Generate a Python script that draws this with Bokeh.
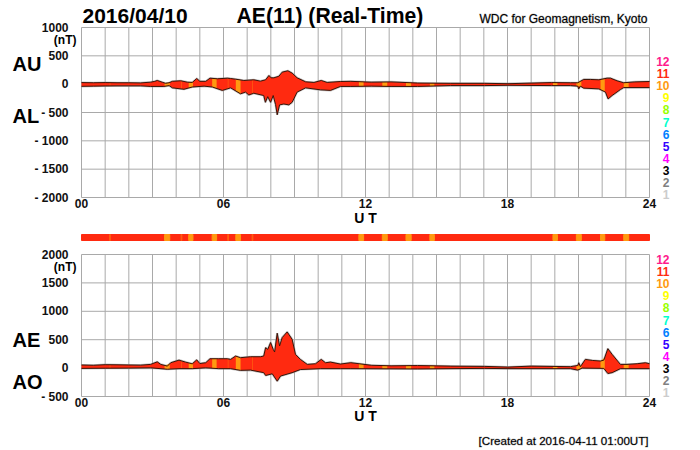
from bokeh.plotting import figure
from bokeh.models import Label, FixedTicker, Range1d, LinearAxis
from bokeh.embed import file_html
from bokeh.resources import INLINE
import numpy as np

FONT = "Liberation Sans"
RED = "#ff2a10"
ORANGE = "#ff9a10"
THIN = "#ff6010"
GRID = "#a9a9a9"
EDGE = "#3a1408"

au_h = [0,0.5,1,1.5,2,2.5,2.92,3.1,3.2,3.41,3.55,3.7,3.84,4.19,4.47,4.68,4.87,5.0,5.25,5.43,5.74,6.16,6.3,6.51,6.86,7.28,7.56,7.78,7.92,8.01,8.13,8.34,8.48,8.72,8.9,9.11,9.47,9.82,10.13,10.38,10.94,11.38,12.24,13.08,14.2,15.6,17.03,18.02,19.85,20.66,20.97,21.22,21.5,21.86,22.21,22.35,22.63,22.91,23.38,24]
au_v = [28,25,28,25,25,22,35,50,65,35,15,25,50,60,35,30,100,50,50,105,95,105,100,88,65,77,53,77,153,112,112,140,212,236,195,112,41,30,65,30,47,50,35,40,20,15,15,8,28,25,25,83,83,77,106,106,59,25,40,47]
al_h = [0,0.5,1,1.5,2,2.5,2.92,3.48,3.7,3.84,4.33,4.68,5.18,5.53,5.95,6.3,6.72,6.93,7.07,7.28,7.70,7.77,7.87,7.99,8.1,8.2,8.27,8.37,8.55,8.76,8.9,9.11,9.47,10.1,10.52,10.94,11.38,12.24,13.08,14.2,15.6,17.03,18.02,19.85,20.66,20.97,21.01,21.08,21.22,21.86,22.14,22.25,22.42,22.77,22.91,24]
al_v = [-38,-35,-32,-30,-30,-30,-40,-40,-25,-65,-90,-50,-35,-50,-110,-65,-170,-140,-190,-160,-200,-320,-220,-320,-200,-360,-540,-365,-350,-365,-320,-140,-65,-100,-110,-40,-40,-35,-40,-40,-25,-25,-20,-25,-25,-35,-83,-35,-70,-83,-140,-260,-200,-95,-60,-60]
ae_h = [0,0.5,1,1.5,2,2.5,2.92,3.2,3.35,3.63,3.77,4.12,4.4,4.68,4.87,5.0,5.25,5.43,5.8,6.16,6.3,6.51,6.72,7.14,7.56,7.70,7.78,7.87,7.99,8.1,8.16,8.27,8.37,8.48,8.69,8.9,9.04,9.25,9.54,9.89,10.13,10.31,10.52,10.94,11.38,12.24,13.08,14.2,15.6,17.03,18.02,19,20.66,20.97,21.01,21.08,21.29,21.58,21.93,22.07,22.24,22.42,22.77,23.05,23.48,23.83,24]
ae_v = [55,50,60,58,55,52,65,110,65,35,95,140,105,75,145,80,95,165,165,165,153,212,183,200,200,212,360,330,450,330,283,614,390,537,637,507,242,153,65,77,153,94,106,71,95,50,40,45,35,30,18,35,25,47,94,25,153,135,124,140,342,242,65,65,77,94,77]
ao_h = [0,1,2,2.92,3.63,4.12,4.68,5.25,5.8,6.3,6.72,7.14,7.70,7.78,8.06,8.27,8.41,8.9,9.25,10.1,10.94,11.38,14.2,17.03,18.02,20.66,20.97,21.15,22.07,22.24,22.42,22.77,24]
ao_v = [-5,-2,0,5,-20,-10,-10,5,-10,-10,-40,-35,-80,-130,-100,-230,-140,-80,-25,-10,-10,-10,-15,-5,-10,-10,-35,0,-5,-95,-80,-10,-10]

band_start = [3.51,4.53,5.52,6.52,11.72,12.71,13.71,14.72,19.92,20.91,21.93,22.91]
band_end = [3.73,4.71,5.71,6.72,11.92,12.92,13.93,14.91,20.11,21.12,22.11,23.12]
thin_start = [1.19,4.21,6.18,7.21]
thin_end = [1.22,4.24,6.21,7.24]

hours = list(range(25))
hour_labels = {0:"00",6:"06",12:"12",18:"18",24:"24"}
top_ticks = [1000,500,0,-500,-1000,-1500,-2000]
top_labels = ["1000","500","0","- 500","- 1000","- 1500","- 2000"]
low_ticks = [2000,1500,1000,500,0,-500]
low_labels = ["2000","1500","1000","500","0","- 500"]
legend_names = ["12","11","10","9","8","7","6","5","4","3","2","1"]
legend_colors = ["#ff1a8c","#ff2a10","#ff9a10","#ffff00","#99ff00","#00ffcc","#0080ff","#3300ff","#ff00ff","#000000","#808080","#cccccc"]

W, H = 690, 448
X0, X1 = 81.0, 649.0


def span(top_px, bottom_px, top_val, bottom_val):
    """Range that puts the given values at the given page rows of a full-canvas frame."""
    k = (top_val - bottom_val) / (bottom_px - top_px)
    return Range1d(bottom_val - (H - bottom_px) * k, top_val + top_px * k)


pxh = (X1 - X0) / 24
p = figure(width=W, height=H, output_backend="svg", toolbar_location=None,
           x_range=Range1d(-X0 / pxh, (W - X0) / pxh), y_range=span(27, 197, 1000, -2000),
           x_axis_type=None, y_axis_type=None,
           min_border_left=0, min_border_right=0, min_border_top=0, min_border_bottom=0)
p.extra_y_ranges = {"low": span(254, 396, 2000, -500), "strip": span(234, 240, 1, 0)}
p.outline_line_color = None
p.grid.visible = False


def style(ax):
    ax.axis_line_color = None
    ax.major_tick_line_color = None
    ax.minor_tick_line_color = None
    ax.major_label_text_font = FONT
    ax.major_label_text_font_style = "bold"
    ax.major_label_text_font_size = "12px"
    ax.major_label_text_color = "#111111"
    return ax


def panel(rng, ticks, labels):
    ylo, yhi = min(ticks), max(ticks)
    p.segment(hours, ylo, hours, yhi, line_color=GRID, line_width=1, y_range_name=rng)
    p.segment(0, ticks, 24, ticks, line_color=GRID, line_width=1, y_range_name=rng)
    ov = {h: "" for h in hours}
    ov.update(hour_labels)
    p.add_layout(style(LinearAxis(ticker=FixedTicker(ticks=hours), major_label_overrides=ov,
                                  y_range_name=rng, fixed_location=ylo, major_label_standoff=-5)), "below")
    p.add_layout(style(LinearAxis(ticker=FixedTicker(ticks=ticks), major_label_overrides=dict(zip(ticks, labels)),
                                  y_range_name=rng, fixed_location=0, major_label_standoff=7)), "left")


def envelope(rng, uh, uv, lh, lv):
    all_h = np.array(sorted(set(uh) | set(lh)))
    p.line(uh, uv, line_color="#999999", line_width=2.2, line_alpha=0.6, y_range_name=rng)
    p.line(lh, lv, line_color="#999999", line_width=2.2, line_alpha=0.6, y_range_name=rng)
    p.varea(all_h, np.interp(all_h, lh, lv), np.interp(all_h, uh, uv), color=RED, y_range_name=rng)
    for starts, ends, col in ((band_start, band_end, ORANGE), (thin_start, thin_end, THIN)):
        for a, b in zip(starts, ends):
            xs = np.array([a, b])
            p.varea(xs, np.interp(xs, lh, lv), np.interp(xs, uh, uv), color=col, y_range_name=rng)
    p.line(uh, uv, line_color=EDGE, line_width=1, y_range_name=rng)
    p.line(lh, lv, line_color=EDGE, line_width=1, y_range_name=rng)


def put(text, px, py, size, align="left", bold=True, color="#000000", heavy=False):
    p.add_layout(Label(x=px, y=H - py, x_units="screen", y_units="screen", text=text,
                       text_font=FONT, text_font_size=size,
                       text_font_style="bold" if bold else "normal",
                       text_color=color, text_align=align, text_baseline="middle",
                       text_outline_color="#00000040" if heavy else None))


panel("default", top_ticks, top_labels)
envelope("default", au_h, au_v, al_h, al_v)
panel("low", low_ticks, low_labels)
envelope("low", ae_h, ae_v, ao_h, ao_v)

p.quad(left=[0], right=[24], bottom=[0], top=[1], color=RED, y_range_name="strip")
p.quad(left=band_start, right=band_end, bottom=0, top=1, color=ORANGE, y_range_name="strip")
p.quad(left=thin_start, right=thin_end, bottom=0, top=1, color=THIN, y_range_name="strip")

put("2016/04/10", 82, 15, "21px")
put("AE(11) (Real-Time)", 236, 15, "21.2px")
put("WDC for Geomagnetism, Kyoto", 647, 18, "12px", "right", False, heavy=True)
put("(nT)", 76, 39, "12px", "right")
put("AU", 12, 63, "20px")
put("AL", 12, 115, "20px")
put("U T", 365, 217, "14px", "center")
put("(nT)", 76, 266, "12px", "right")
put("AE", 12, 339, "20px")
put("AO", 12, 381, "20px")
put("U T", 365, 415, "14px", "center")
put("[Created at 2016-04-11 01:00UT]", 648, 440, "11.6px", "right", False, heavy=True)
for i, (n, c) in enumerate(zip(legend_names, legend_colors)):
    put(n, 669, 61 + i * 12.1, "12px", "right", True, c)
    put(n, 669, 259 + i * 12.1, "12px", "right", True, c)

open("out.html", "w").write(file_html(p, INLINE))
